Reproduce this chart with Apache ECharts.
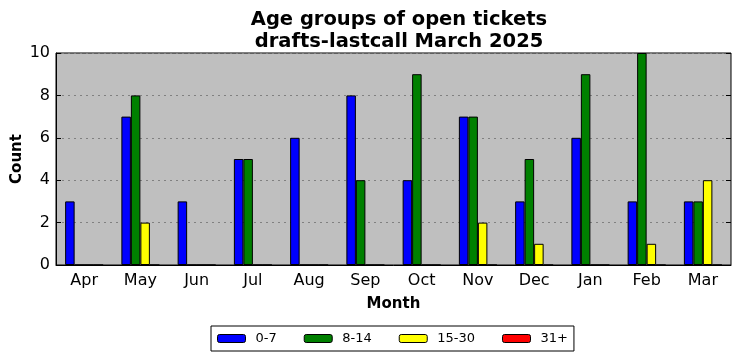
<!DOCTYPE html>
<html><head><meta charset="utf-8">
<script src="https://cdn.jsdelivr.net/npm/echarts@6/dist/echarts.min.js"></script>
<style>html,body{margin:0;padding:0;background:#fff}#c{width:741px;height:361px}</style>
</head><body><div id="c"></div>
<script>
const categories = ['Apr','May','Jun','Jul','Aug','Sep','Oct','Nov','Dec','Jan','Feb','Mar'];
const seriesNames = ['0-7','8-14','15-30','31+'];
const s0_7   = [3,7,3,5,6,8,4,7,3,6,3,3];
const s8_14  = [0,8,0,5,0,4,9,7,5,9,10,3];
const s15_30 = [0,2,0,0,0,0,0,2,1,0,1,4];
const s31    = [0,0,0,0,0,0,0,0,0,0,0,0];
const yTicks = [0,2,4,6,8,10];
const colors = ['#0000ff','#008000','#ffff00','#ff0000'];
const values = [s0_7, s8_14, s15_30, s31];

const font = 'DejaVu Sans';
const chart = echarts.init(document.getElementById('c'), null, {renderer:'canvas'});
chart.setOption({
  animation:false,
  textStyle:{fontFamily:font},
  title:{
    text:'Age groups of open tickets\ndrafts-lastcall March 2025',
    left:394, top:4, textAlign:'center',
    textStyle:{fontFamily:font, fontSize:19.5, fontWeight:'bold', color:'#000', lineHeight:22}
  },
  grid:{left:56, top:53, width:675, height:212, show:true, backgroundColor:'#bfbfbf', borderColor:'#000', borderWidth:1, containLabel:false, outerBoundsMode:'none'},
  legend:{
    data:seriesNames, left:211, top:326, width:400,
    itemWidth:28, itemHeight:8, itemGap:27,
    borderColor:'#000', borderWidth:1, padding:[6,6,6,6],
    textStyle:{fontFamily:font, fontSize:13, color:'#000', padding:[0,0,0,5]},
    itemStyle:{borderColor:'#000', borderWidth:1}
  },
  xAxis:[{
    type:'category', data:categories, position:'bottom',
    name:'Month', nameLocation:'middle', nameGap:32, nameMoveOverlap:false,
    nameTextStyle:{fontFamily:font, fontSize:15, fontWeight:'bold', color:'#000'},
    axisLine:{lineStyle:{color:'#000'}},
    axisTick:{alignWithLabel:true, inside:true, length:5, lineStyle:{color:'#000'}},
    axisLabel:{fontFamily:font, fontSize:16, color:'#000', margin:8},
    splitLine:{show:false}
  },{
    type:'category', data:categories, position:'top',
    axisLine:{show:false},
    axisTick:{alignWithLabel:true, inside:true, length:5, lineStyle:{color:'#000'}},
    axisLabel:{show:false}
  }],
  yAxis:[{
    type:'value', min:0, max:10, interval:2,
    name:'Count', nameLocation:'middle', nameGap:31.5, nameMoveOverlap:false,
    nameTextStyle:{fontFamily:font, fontSize:15, fontWeight:'bold', color:'#000'},
    axisLine:{show:true, lineStyle:{color:'#000'}},
    axisTick:{show:true, inside:true, length:5, lineStyle:{color:'#000'}},
    axisLabel:{fontFamily:font, fontSize:16, color:'#000', margin:6,
      formatter:v=> yTicks.includes(v) ? String(v) : ''},
    splitLine:{show:true, lineStyle:{color:'#808080', type:[2,4], width:1}}
  },{
    type:'value', min:0, max:10, interval:2, position:'right',
    axisLine:{show:false},
    axisTick:{show:true, inside:true, length:5, lineStyle:{color:'#000'}},
    axisLabel:{show:false}, splitLine:{show:false}
  }],
  series: seriesNames.map((n,i)=>({
    name:n, type:'bar', data:values[i], barWidth:9.5, barGap:'0%',
    itemStyle:{color:colors[i], borderColor:'#000', borderWidth:1}
  }))
});
</script></body></html>
